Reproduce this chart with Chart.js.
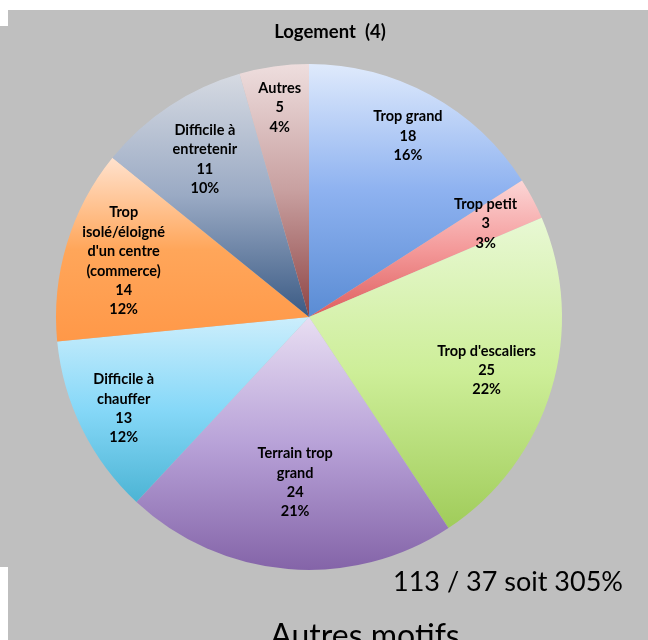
<!DOCTYPE html>
<html>
<head>
<meta charset="utf-8">
<script src="https://cdn.jsdelivr.net/npm/chart.js@4.4.1/dist/chart.umd.min.js"></script>
<style>
  html, body { margin: 0; padding: 0; background: #fff; }
  #page { position: relative; width: 648px; height: 640px; overflow: hidden; background: #fff; font-family: Lato, "Open Sans", sans-serif; }
  .gris { position: absolute; background: #bfbfbf; }
  #fond1 { left: 8px; top: 10px; width: 640px; height: 630px; }
  #fond2 { left: 0; top: 26px; width: 640px; height: 541px; }
  #graph { position: absolute; left: 0; top: 0; }
  .txt { position: absolute; color: #000; white-space: nowrap; }
  #titre { left: 0; width: 660px; top: 20px; text-align: center; font-weight: bold; font-size: 18.5px; }
  #ratio { left: 393px; top: 564px; font-size: 27px; }
  #motifs { left: 0; width: 730px; top: 615px; text-align: center; font-size: 32px; }
</style>
</head>
<body>
<div id="page">
  <div class="gris" id="fond1"></div>
  <div class="gris" id="fond2"></div>
  <canvas id="graph" width="648" height="640"></canvas>
  <div class="txt" id="titre">Logement&nbsp; (4)</div>
  <div class="txt" id="ratio">113 / 37 soit 305%</div>
  <div class="txt" id="motifs">Autres motifs</div>
</div>
<script>
// ---------------------------------------------------------------
// Données
// ---------------------------------------------------------------
var categories = [
    ["Trop grand"],
    ["Trop petit"],
    ["Trop d'escaliers"],
    ["Terrain trop", "grand"],
    ["Difficile à", "chauffer"],
    ["Trop", "isolé/éloigné", "d'un centre", "(commerce)"],
    ["Difficile à", "entretenir"],
    ["Autres"]
];
var valeurs = [18, 3, 25, 24, 13, 14, 11, 5];

// couleurs en dégradé (haut clair -> bas foncé), comme dans Excel
var couleursHaut = ['#dfeafc', '#fcd6d6', '#e8f8d4', '#e8def2', '#cceefc', '#ffe2ce', '#d6dae2', '#eedede'];
var couleursMilieu = ['#8eb2f0', '#f49a9a', '#cdee98', '#b8a2d8', '#86d8f8', '#ffa65a', '#9aaac4', '#c8a0a0'];
var couleursBas = ['#5a8cd4', '#de5e5e', '#a0cc5a', '#8464a8', '#4cb4d4', '#ff9848', '#3a5a84', '#8e4444'];

// distance des étiquettes au centre (fraction du rayon)
var rayonEtiquettes = [0.815, 0.79, 0.733, 0.657, 0.817, 0.765, 0.747, 0.835];

var total = valeurs.reduce((a, b) => a + b, 0);

// ---------------------------------------------------------------
// Dégradé vertical calé sur la boîte englobante de chaque part
// ---------------------------------------------------------------
function degradePart(context) {
    var chart = context.chart;
    var area = chart.chartArea;
    if (!area) return couleursMilieu[context.dataIndex];
    var i = context.dataIndex;
    var cx = (area.left + area.right) / 2;
    var cy = (area.top + area.bottom) / 2;
    var r = Math.min(area.right - area.left, area.bottom - area.top) / 2;

    var avant = 0;
    for (var k = 0; k < i; k++) avant += valeurs[k];
    var a0 = -Math.PI / 2 + avant / total * 2 * Math.PI;
    var a1 = a0 + valeurs[i] / total * 2 * Math.PI;

    var haut = cy, bas = cy;
    [a0, a1].forEach(a => {
        var py = cy + Math.sin(a) * r;
        haut = Math.min(haut, py);
        bas = Math.max(bas, py);
    });
    [-Math.PI / 2, 3 * Math.PI / 2].forEach(a => { if (a >= a0 && a <= a1) haut = cy - r; });
    if (Math.PI / 2 >= a0 && Math.PI / 2 <= a1) bas = cy + r;

    var g = chart.ctx.createLinearGradient(0, haut, 0, bas);
    g.addColorStop(0, couleursHaut[i]);
    g.addColorStop(0.5, couleursMilieu[i]);
    g.addColorStop(1, couleursBas[i]);
    return g;
}

// ---------------------------------------------------------------
// Étiquettes : catégorie, valeur, pourcentage
// ---------------------------------------------------------------
var etiquettesPlugin = {
    id: 'etiquettes',
    afterDatasetsDraw(chart) {
        var ctx = chart.ctx;
        var meta = chart.getDatasetMeta(0);
        ctx.save();
        ctx.font = 'bold 14.5px Lato, "Open Sans", sans-serif';
        ctx.fillStyle = '#000';
        ctx.textAlign = 'center';
        ctx.textBaseline = 'middle';
        var interligne = 19.4;
        meta.data.forEach((arc, i) => {
            var p = arc.getProps(['x', 'y', 'startAngle', 'endAngle', 'outerRadius'], true);
            var milieu = (p.startAngle + p.endAngle) / 2;
            var d = p.outerRadius * rayonEtiquettes[i];
            var x = p.x + Math.cos(milieu) * d;
            var y = p.y + Math.sin(milieu) * d;
            var lignes = categories[i].concat([String(valeurs[i]), Math.round(valeurs[i] / total * 100) + '%']);
            var y0 = y - (lignes.length - 1) * interligne / 2;
            lignes.forEach((l, j) => ctx.fillText(l, x, y0 + j * interligne));
        });
        ctx.restore();
    }
};

var graphique = new Chart(document.getElementById('graph'), {
    type: 'pie',
    data: {
        labels: categories,
        datasets: [{
            data: valeurs,
            backgroundColor: degradePart,
            borderWidth: 0
        }]
    },
    options: {
        responsive: false,
        animation: false,
        layout: { padding: { left: 56, right: 86, top: 64, bottom: 70 } },
        plugins: {
            legend: { display: false },
            tooltip: { enabled: false }
        }
    },
    plugins: [etiquettesPlugin]
});
</script>
</body>
</html>
